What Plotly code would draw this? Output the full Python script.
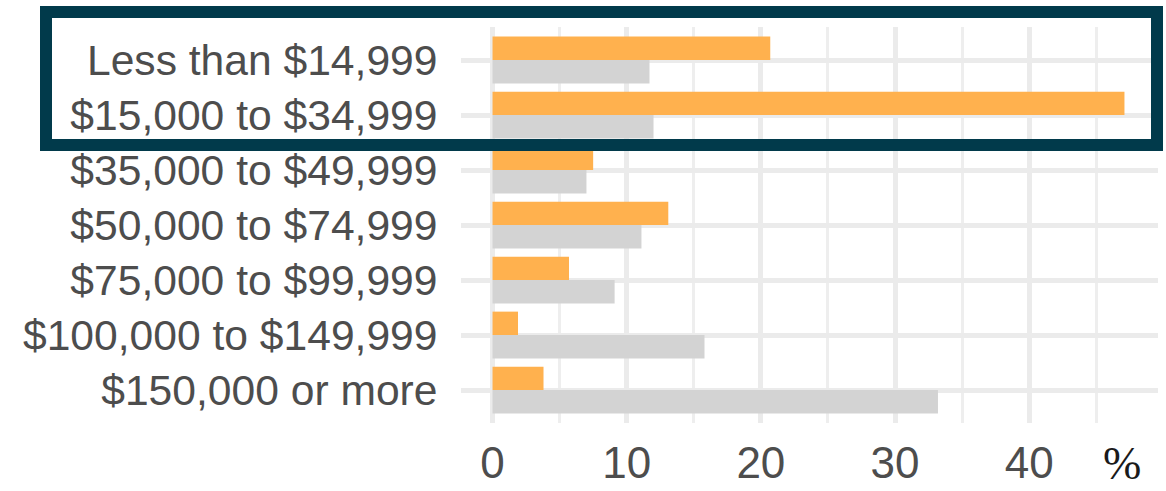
import plotly.graph_objects as go

categories = [
    "Less than $14,999",
    "$15,000 to $34,999",
    "$35,000 to $49,999",
    "$50,000 to $74,999",
    "$75,000 to $99,999",
    "$100,000 to $149,999",
    "$150,000 or more",
]
highlight_values = [20.7, 47.1, 7.5, 13.1, 5.7, 1.9, 3.8]
comparison_values = [11.7, 12.0, 7.0, 11.1, 9.1, 15.8, 33.2]
x_tick_values = [0, 10, 20, 30, 40]
x_tick_labels = ["0", "10", "20", "30", "40"]
unit_label = "%"

W, H = 1166, 491
L, R, T, B = 461, 8, 27, 68
pw, ph = W - L - R, H - T - B

def px_x(p):
    return (p - L) / pw

def px_y(p):
    return (H - B - p) / ph

fig = go.Figure()
fig.add_trace(go.Bar(y=categories, x=highlight_values, orientation="h",
                     marker=dict(color="#FFB14E", line=dict(width=0)), name="a"))
fig.add_trace(go.Bar(y=categories, x=comparison_values, orientation="h",
                     marker=dict(color="#D3D3D3", line=dict(width=0)), name="b"))

grid = "#EBEBEB"
fig.update_layout(
    width=W, height=H,
    margin=dict(l=L, r=R, t=T, b=B, pad=0, autoexpand=False),
    paper_bgcolor="white", plot_bgcolor="white",
    barmode="group", bargap=0.15, bargroupgap=0,
    showlegend=False,
    font=dict(family="Liberation Sans, Arial, sans-serif", color="#4D4D4D"),
    xaxis=dict(
        automargin=False,
        range=[-2.35, 49.6],
        tickmode="array", tickvals=x_tick_values, ticktext=x_tick_labels,
        showgrid=True, gridcolor=grid, gridwidth=4.5,
        minor=dict(dtick=5, tick0=0, showgrid=True, gridcolor="#EEEEEE", gridwidth=2.5),
        zeroline=False, showline=False,
        ticks="outside", ticklen=1, tickcolor="rgba(0,0,0,0)",
        tickfont=dict(size=44, color="#4D4D4D"),
    ),
    yaxis=dict(
        automargin=False,
        type="category", categoryorder="array", categoryarray=categories,
        range=[6.6, -0.6],
        showgrid=True, gridcolor=grid, gridwidth=4.5,
        zeroline=False, showline=False,
        ticks="outside", ticklen=14, tickcolor="rgba(0,0,0,0)",
        tickfont=dict(size=42.6, color="#4D4D4D"),
    ),
)

fig.add_annotation(
    text=unit_label, xref="paper", yref="paper",
    x=px_x(1122), y=px_y(463), xanchor="center", yanchor="middle",
    showarrow=False,
    font=dict(family="Liberation Serif, Times New Roman, serif", size=46, color="#1A1A1A"),
)

fig.add_shape(
    type="rect", xref="paper", yref="paper",
    x0=px_x(46), x1=px_x(1157), y0=px_y(145), y1=px_y(12),
    line=dict(color="#013A4B", width=12), fillcolor="rgba(0,0,0,0)",
    layer="above",
)

fig.write_html("out.html", config={"displayModeBar": False},
               post_script="document.body.style.margin='0';")
